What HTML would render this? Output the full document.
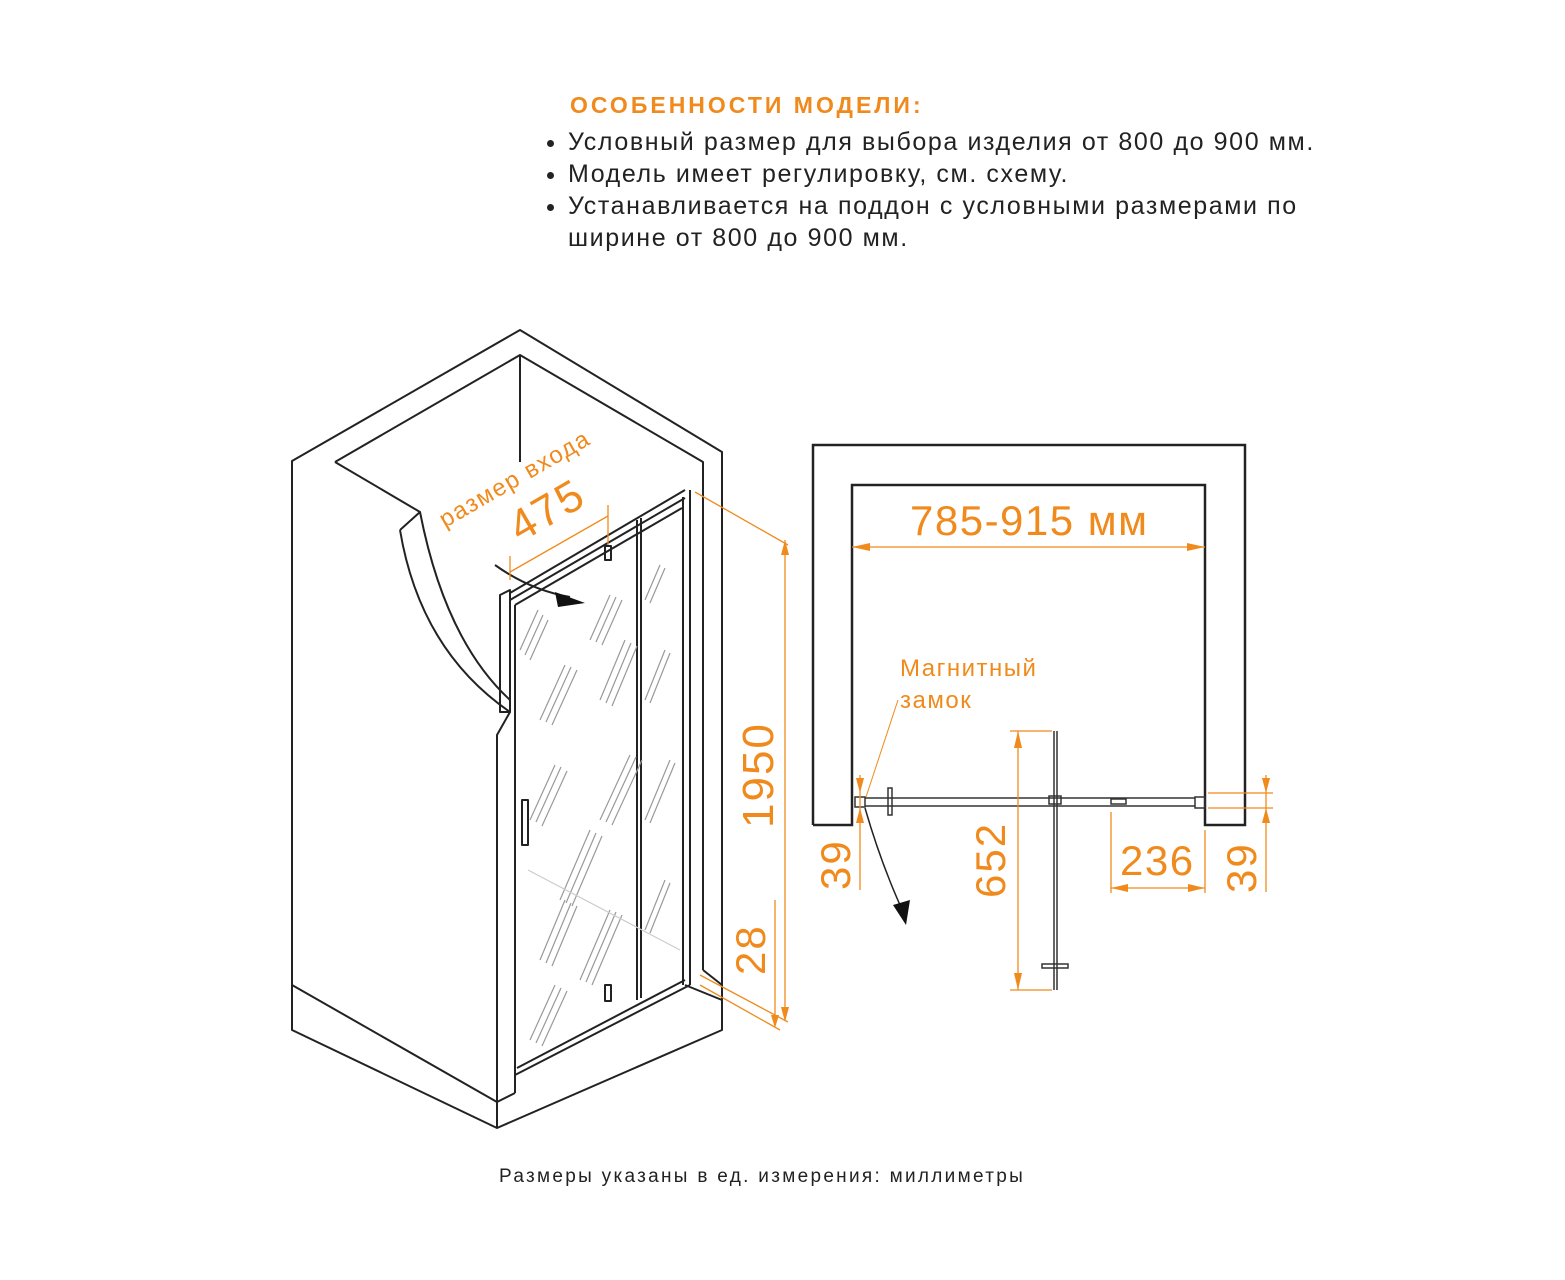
<!DOCTYPE html>
<html><head><meta charset="utf-8"><style>
html,body{margin:0;padding:0;background:#fff;}
body{width:1565px;height:1280px;position:relative;overflow:hidden;font-family:"Liberation Sans","DejaVu Sans",sans-serif;}
.h{position:absolute;left:570px;top:92px;color:#f08a1c;font-weight:bold;font-size:23px;letter-spacing:3px;}
ul{position:absolute;left:540px;top:126px;margin:0;padding:0 0 0 28px;font-size:25px;line-height:32px;color:#222;width:800px;letter-spacing:1.6px;}
li{padding-left:0;}
.f{position:absolute;left:499px;top:1166px;font-size:19px;color:#222;letter-spacing:2.3px;}
</style></head><body>
<div class="h">ОСОБЕННОСТИ МОДЕЛИ:</div>
<ul>
<li>Условный размер для выбора изделия от 800 до 900 мм.</li>
<li>Модель имеет регулировку, см. схему.</li>
<li>Устанавливается на поддон с условными размерами по ширине от 800 до 900 мм.</li>
</ul>
<div class="f">Размеры указаны в ед. измерения: миллиметры</div>
<svg width="1565" height="1280" style="position:absolute;left:0;top:0" xmlns="http://www.w3.org/2000/svg">
<g fill="none" stroke="#222" stroke-width="2" stroke-linejoin="round">
<polyline points="292,985 292,461 520,330 722,452 722,1030 497,1128 292,1030 292,985"/>
<polyline points="335,462 520,355 703,462 703,970"/>
<line x1="520" y1="355" x2="520" y2="462"/>
<polyline points="335,462 420,512 400,530"/>
<path d="M400,530 Q420,650 510,712"/>
<path d="M420,512 Q445,640 510,700"/>
<polyline points="510,712 497,735 497,1128"/>
<polyline points="292,985 497,1102 515,1093"/>
<polyline points="703,970 722,985"/>
<line x1="685" y1="985" x2="722" y2="1000"/>
<line x1="515" y1="1093" x2="515" y2="1075"/>
<polygon points="500,595 510,590 510,712 500,712"/>
<line x1="510" y1="593" x2="685" y2="490"/>
<line x1="510" y1="600" x2="685" y2="498"/>
<line x1="515" y1="605" x2="682" y2="508"/>
<line x1="515" y1="605" x2="515" y2="1075"/>
<line x1="515" y1="1075" x2="690" y2="985"/>
<line x1="517" y1="1068" x2="685" y2="980"/>
<line x1="637" y1="520" x2="637" y2="1000"/>
<line x1="641" y1="518" x2="641" y2="998"/>
<line x1="683" y1="497" x2="683" y2="985"/>
<line x1="690" y1="490" x2="690" y2="985"/>
<rect x="605" y="546" width="6" height="14"/>
<rect x="605" y="985" width="6" height="16"/>
<rect x="522" y="800" width="6" height="45"/>
</g>
<g stroke="#999" stroke-width="1.2">
<path d="M520,650 l18,-40 M525,655 l18,-40 M530,660 l18,-40 M590,640 l20,-45 M596,642 l20,-45 M602,645 l20,-45 M540,720 l25,-55 M546,722 l25,-55 M552,725 l25,-55 M600,700 l25,-60 M606,703 l25,-60 M612,706 l25,-60 M530,820 l25,-55 M536,822 l25,-55 M542,826 l25,-55 M560,900 l30,-70 M566,903 l30,-70 M572,906 l30,-70 M600,820 l30,-65 M606,822 l30,-65 M612,825 l30,-65 M540,960 l25,-60 M546,963 l25,-60 M552,966 l25,-60 M580,980 l30,-70 M586,982 l30,-70 M592,985 l30,-70 M530,1040 l25,-55 M536,1043 l25,-55 M542,1046 l25,-55 M645,600 l15,-35 M650,603 l15,-35 M645,700 l20,-50 M650,703 l20,-50 M645,820 l25,-60 M650,823 l25,-60 M645,930 l20,-50 M650,933 l20,-50"/>
<line x1="528" y1="870" x2="680" y2="950" stroke="#ccc"/>
</g>
<path d="M495,565 Q530,590 570,597" fill="none" stroke="#222" stroke-width="2"/>
<polygon points="555,592 585,603 558,607" fill="#111"/>
<g stroke="#f08a1c" stroke-width="1.3" fill="none">
<line x1="510" y1="572" x2="608" y2="516"/>
<line x1="510" y1="556" x2="510" y2="580"/>
<line x1="608" y1="505" x2="608" y2="545"/>
<line x1="695" y1="492" x2="788" y2="545"/>
<line x1="785" y1="540" x2="785" y2="1020"/>
<line x1="700" y1="975" x2="788" y2="1022"/>
<line x1="775" y1="900" x2="775" y2="1025"/>
<line x1="700" y1="985" x2="780" y2="1030"/>
</g>
<g fill="#f08a1c">
<polygon points="785,540 781,555 789,555"/><polygon points="785,1022 781,1007 789,1007"/>
<polygon points="775,1028 771,1015 779,1015"/>
</g>
<g fill="#f08a1c" font-family="Liberation Sans,sans-serif">
<text x="0" y="0" font-size="24" letter-spacing="1.5" transform="translate(445,528) rotate(-30)">размер входа</text>
<text x="0" y="0" font-size="44" letter-spacing="2" transform="translate(520,543) rotate(-30)">475</text>
<text x="0" y="0" font-size="44" letter-spacing="2" transform="translate(773,828) rotate(-90)">1950</text>
<text x="0" y="0" font-size="42" letter-spacing="2" transform="translate(765,975) rotate(-90)">28</text>
</g>
<g fill="none" stroke="#222" stroke-width="2.5">
<polyline points="813,825 813,445 1245,445 1245,825 1205,825 1205,485 852,485 852,825 813,825"/>
</g>
<g fill="none" stroke="#333" stroke-width="1.5">
<rect x="855" y="797" width="10" height="10"/>
<line x1="865" y1="798" x2="1195" y2="798"/><line x1="865" y1="806" x2="1195" y2="806"/>
<rect x="888" y="788" width="4" height="27"/>
<rect x="1111" y="799" width="15" height="5"/>
<rect x="1195" y="797" width="10" height="11"/>
<rect x="1049" y="796" width="12" height="8"/>
<line x1="1054" y1="731" x2="1054" y2="990"/><line x1="1057" y1="731" x2="1057" y2="990"/>
<rect x="1042" y="964" width="26" height="4"/>
</g>
<path d="M865,808 Q880,860 900,905" fill="none" stroke="#222" stroke-width="1.5"/>
<polygon points="893,905 910,900 906,925" fill="#111"/>
<g stroke="#f08a1c" stroke-width="1.3" fill="none">
<line x1="852" y1="547" x2="1205" y2="547"/>
<line x1="1018" y1="731" x2="1018" y2="990"/>
<line x1="1010" y1="731" x2="1052" y2="731"/><line x1="1010" y1="990" x2="1052" y2="990"/>
<line x1="1111" y1="812" x2="1111" y2="893"/><line x1="1205" y1="830" x2="1205" y2="893"/>
<line x1="1111" y1="888" x2="1205" y2="888"/>
<line x1="1208" y1="793" x2="1273" y2="793"/><line x1="1208" y1="808" x2="1273" y2="808"/>
<line x1="1266" y1="775" x2="1266" y2="892"/>
<line x1="860" y1="775" x2="860" y2="890"/>
<line x1="866" y1="797" x2="898" y2="700" stroke-width="1"/>
</g>
<g fill="#f08a1c">
<polygon points="852,547 870,543 870,551"/><polygon points="1205,547 1187,543 1187,551"/>
<polygon points="1018,731 1014,748 1022,748"/><polygon points="1018,990 1014,973 1022,973"/>
<polygon points="1111,888 1128,884 1128,892"/><polygon points="1205,888 1188,884 1188,892"/>
<polygon points="1266,793 1262,778 1270,778"/><polygon points="1266,808 1262,823 1270,823"/>
<polygon points="860,793 856,778 864,778"/><polygon points="860,808 856,823 864,823"/>
</g>
<g fill="#f08a1c" font-family="Liberation Sans,sans-serif">
<text x="910" y="535" font-size="42" letter-spacing="1.5">785-915 мм</text>
<text x="900" y="676" font-size="24" letter-spacing="1.5">Магнитный</text>
<text x="900" y="708" font-size="24" letter-spacing="1.5">замок</text>
<text x="1120" y="875" font-size="42" letter-spacing="1.5">236</text>
<text x="0" y="0" font-size="42" letter-spacing="2" transform="translate(850,890) rotate(-90)">39</text>
<text x="0" y="0" font-size="42" letter-spacing="2" transform="translate(1005,898) rotate(-90)">652</text>
<text x="0" y="0" font-size="42" letter-spacing="2" transform="translate(1256,893) rotate(-90)">39</text>
</g>
</svg>
</body></html>
